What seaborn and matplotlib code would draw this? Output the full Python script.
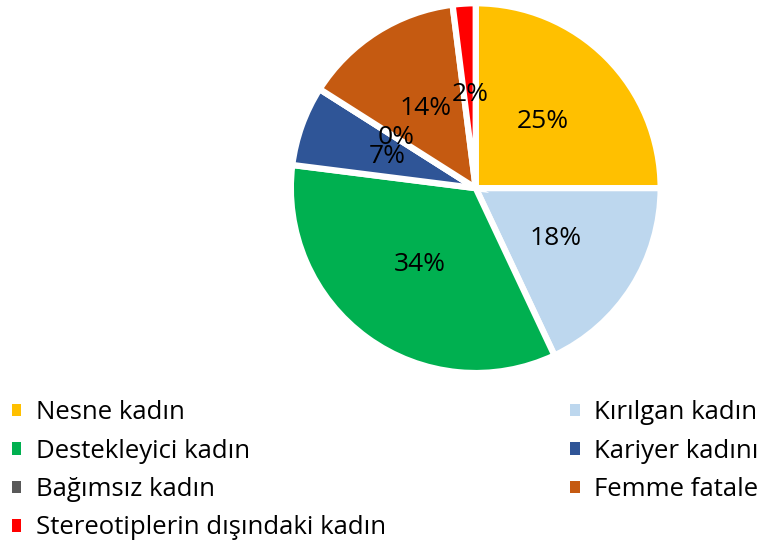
import matplotlib
matplotlib.use("Agg")
import matplotlib.pyplot as plt
import seaborn as sns

# Veriler
kategoriler = ["Nesne kadın", "Kırılgan kadın", "Destekleyici kadın", "Kariyer kadını",
               "Bağımsız kadın", "Femme fatale", "Stereotiplerin dışındaki kadın"]
yuzdeler = [25, 18, 34, 7, 0, 14, 2]
renkler = ["#FFC000", "#BDD7EE", "#00B050", "#2F5597", "#595959", "#C55A11", "#FF0000"]

sns.set_theme(style="white")
plt.rcParams['font.family'] = ['Open Sans', 'DejaVu Sans']

fig = plt.figure(figsize=(7.63, 5.43), dpi=100)
ax = fig.add_axes([0.381, 0.313, 0.485, 0.681])

paleta = sns.color_palette(renkler)
dilimler, _, yazilar = ax.pie(
    yuzdeler, colors=paleta, startangle=90, counterclock=False,
    autopct='%.0f%%', pctdistance=0.51,
    wedgeprops=dict(edgecolor="white", linewidth=4.5),
    textprops=dict(fontsize=19, color="black"))
ax.set_xlim(-1.0, 1.0)
ax.set_ylim(-1.0, 1.0)
ax.set_aspect("equal")

# Lejant: satır sırasıyla iki sütun
sira = [0, 2, 4, 6, 1, 3, 5]
leg = fig.legend([dilimler[i] for i in sira], [kategoriler[i] for i in sira],
                 ncol=2, loc="lower left", bbox_to_anchor=(0.012, 0.0, 0.985, 0.3),
                 mode="expand", frameon=False, fontsize=18.5, labelcolor="black",
                 handlelength=0.38, handleheight=0.38, handletextpad=0.55,
                 labelspacing=0.52, borderaxespad=0.0, borderpad=0.1)
for h in leg.legend_handles:
    h.set_edgecolor("none")

fig.savefig("out.png", dpi=100)
